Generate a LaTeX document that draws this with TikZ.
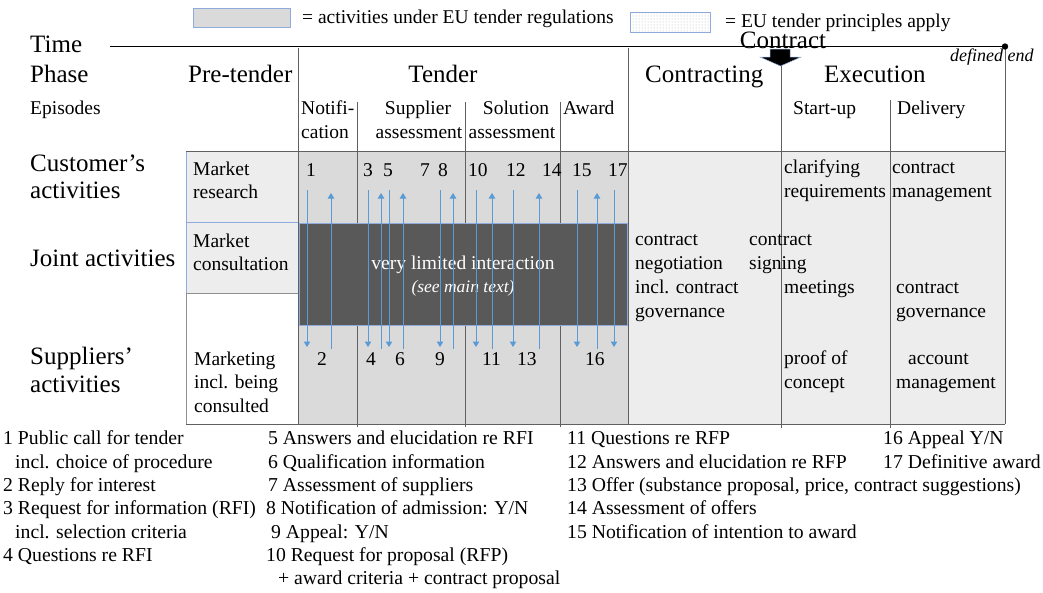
\documentclass[tikz,border=0pt]{standalone}
\usepackage{fontspec}
\setmainfont{Liberation Serif}
\usetikzlibrary{arrows.meta,patterns}
\definecolor{arrowblue}{HTML}{5B9BD5}
\definecolor{darkbox}{HTML}{595959}
\definecolor{tendergray}{HTML}{DADADA}
\definecolor{lightfill}{HTML}{EDEDED}
\definecolor{boxborder}{HTML}{8FAADC}
\definecolor{gridline}{HTML}{606060}
\begin{document}
\begin{tikzpicture}[x=1pt,y=-1pt,
  txt/.style={inner sep=0pt, anchor=base west, font=\fontsize{19.5}{23.5}\selectfont},
  leg/.style={inner sep=0pt, anchor=base west, font=\fontsize{19.7}{23.5}\selectfont},
  big/.style={inner sep=0pt, anchor=base west, font=\fontsize{25}{28}\selectfont},
  gridl/.style={draw=gridline, line width=0.9pt},
  flow/.style={draw=arrowblue, line width=1pt, -{Triangle[width=6.5pt,length=5.5pt]}},
]
\useasboundingbox (0,0) rectangle (1043,592);

% legend
\draw[boxborder, fill=tendergray] (193,8) rectangle (290,27);
\node[txt] (leg1) at (302,23) {= activities under EU tender regulations};
\draw[boxborder, pattern=dots, pattern color=gray!60] (630,12) rectangle (710,32);
\node[txt] (leg2) at (725,27) {= EU tender principles apply};

% background areas
\fill[tendergray] (298,151) rectangle (628,424);
\fill[lightfill] (628,151) rectangle (1005,424);
\draw[boxborder, fill=lightfill] (186,151) rectangle (298,222);
\draw[boxborder, fill=lightfill] (186,222) rectangle (298,293);
\draw[gridline!70, fill=white] (186,293) rectangle (298,424);

% grid lines
\draw[gridl] (298,48) -- (298,424);
\draw[gridl] (628,48) -- (628,424);
\draw[gridl] (781,65) -- (781,428);
\draw[gridl] (1005,48) -- (1005,424);
\draw[gridl] (357,102) -- (357,427);
\draw[gridl] (465,102) -- (465,427);
\draw[gridl] (560,102) -- (560,427);
\draw[gridl] (890,100) -- (890,428);
\draw[gridl] (186,151) -- (1005,151);
\draw[gridl] (186,424) -- (1005,424);

% time line
\coordinate (tstart) at (110,46.5);
\coordinate (tend) at (1005,46.5);
\draw[line width=1.8pt] (tstart) -- (tend);
\fill (tend) circle (3.2);

% contract arrow
\filldraw[fill=black, draw=boxborder, line width=0.5pt] (770,49) -- (790,49) -- (790,57) -- (801,57) -- (780.5,66) -- (760,57) -- (770,57) -- cycle;

% dark box
\draw[fill=darkbox, draw=boxborder, line width=0.6pt] (299,223) rectangle (627,325);
\node[inner sep=0pt, anchor=base, text=white, font=\fontsize{19.5}{23.5}\selectfont] (vli) at (463,269) {very limited interaction};
\node[inner sep=0pt, anchor=base, text=white, font=\fontsize{17.5}{22}\selectfont\itshape] (smt) at (463,292) {(see main text)};

% arrows
\foreach \n/\x in {a1/307,a3/368,a5/389,a8/440,a10/476,a12/513,a15/577,a17/614} {
  \coordinate (\n s) at (\x,190);
  \coordinate (\n e) at (\x,347);
  \draw[flow] (\n s) -- (\n e);
}
\foreach \n/\x in {b2/331,b4/381,b6/403,b9/453,b11/492,b13/539,b16/597} {
  \coordinate (\n s) at (\x,349);
  \coordinate (\n e) at (\x,193);
  \draw[flow] (\n s) -- (\n e);
}

% headings
\node[big] (time) at (30,52) {Time};
\node[big] (phase) at (30,82) {Phase};
\node[big] (pre) at (188,82) {Pre-tender};
\node[big, anchor=base] (tender) at (443,82) {Tender};
\node[big] (contracting) at (645,82) {Contracting};
\node[big] (execution) at (824,82) {Execution};
\node[big, anchor=base] (contract) at (783,48) {Contract};
\node[inner sep=0pt, anchor=base west, font=\fontsize{18}{22}\selectfont\itshape] (defend) at (950,61) {defined end};

\node[txt] (episodes) at (30,114) {Episodes};
\node[txt] (notif1) at (301,114) {Notifi-};
\node[txt] (notif2) at (301,138) {cation};
\node[txt, anchor=base] (supp1) at (418,114) {Supplier};
\node[txt, anchor=base] (supp2) at (419,138) {assessment};
\node[txt, anchor=base] (sol1) at (516,114) {Solution};
\node[txt, anchor=base] (sol2) at (512,138) {assessment};
\node[txt] (award) at (563,114) {Award};
\node[txt] (startup) at (793,114) {Start-up};
\node[txt] (delivery) at (897,114) {Delivery};

% row labels
\node[big] (cust1) at (30,171) {Customer’s};
\node[big] (cust2) at (30,198) {activities};
\node[big] (joint) at (30,266) {Joint activities};
\node[big] (supl1) at (30,364) {Suppliers’};
\node[big] (supl2) at (30,392) {activities};

% left column
\node[txt] (mr1) at (193,175) {Market};
\node[txt] (mr2) at (193,198) {research};
\node[txt] (mc1) at (193,247) {Market};
\node[txt] (mc2) at (193,270) {consultation};
\node[txt] (mk1) at (194,365) {Marketing};
\node[txt] (mk2) at (194,388) {incl. being};
\node[txt] (mk3) at (194,412) {consulted};

% numbers
\foreach \t/\x in {1/306,3/363,5/383,7/420,8/438,10/468,12/506,14/542,15/572,17/608} {
  \node[txt] (n\t) at (\x,176) {\t};
}
\foreach \t/\x in {2/317,4/366,6/395,9/435,11/482,13/517,16/585} {
  \node[txt] (n\t) at (\x,365) {\t};
}

% right area
\node[txt] (clar1) at (784,173) {clarifying};
\node[txt] (clar2) at (784,197) {requirements};
\node[txt] (cm1) at (892,173) {contract};
\node[txt] (cm2) at (892,197) {management};
\node[txt] (cn1) at (635,245) {contract};
\node[txt] (cn2) at (635,269) {negotiation};
\node[txt] (cn3) at (635,293) {incl. contract};
\node[txt] (cn4) at (635,317) {governance};
\node[txt] (cs1) at (749,245) {contract};
\node[txt] (cs2) at (749,269) {signing};
\node[txt] (meet) at (784,293) {meetings};
\node[txt] (cg1) at (896,293) {contract};
\node[txt] (cg2) at (896,317) {governance};
\node[txt] (poc1) at (784,364) {proof of};
\node[txt] (poc2) at (784,388) {concept};
\node[txt] (am1) at (908,364) {account};
\node[txt] (am2) at (896,388) {management};

% bottom legend
\node[leg] (l1a) at (3,444) {1 Public call for tender};
\node[leg] (l1b) at (15,468) {incl. choice of procedure};
\node[leg] (l2) at (3,491) {2 Reply for interest};
\node[leg] (l3a) at (3,514) {3 Request for information (RFI)};
\node[leg] (l3b) at (15,538) {incl. selection criteria};
\node[leg] (l4) at (3,561) {4 Questions re RFI};
\node[leg] (l5) at (268,444) {5 Answers and elucidation re RFI};
\node[leg] (l6) at (268,468) {6 Qualification information};
\node[leg] (l7) at (268,491) {7 Assessment of suppliers};
\node[leg] (l8) at (266,514) {8 Notification of admission: Y/N};
\node[leg] (l9) at (271,538) {9 Appeal: Y/N};
\node[leg] (l10a) at (266,561) {10 Request for proposal (RFP)};
\node[leg] (l10b) at (278,584) {+ award criteria + contract proposal};
\node[leg] (l11) at (567,444) {11 Questions re RFP};
\node[leg] (l12) at (567,468) {12 Answers and elucidation re RFP};
\node[leg] (l13) at (567,491) {13 Offer (substance proposal, price, contract suggestions)};
\node[leg] (l14) at (567,514) {14 Assessment of offers};
\node[leg] (l15) at (567,538) {15 Notification of intention to award};
\node[leg] (l16) at (883,444) {16 Appeal Y/N};
\node[leg] (l17) at (883,468) {17 Definitive award};
\end{tikzpicture}
\end{document}
